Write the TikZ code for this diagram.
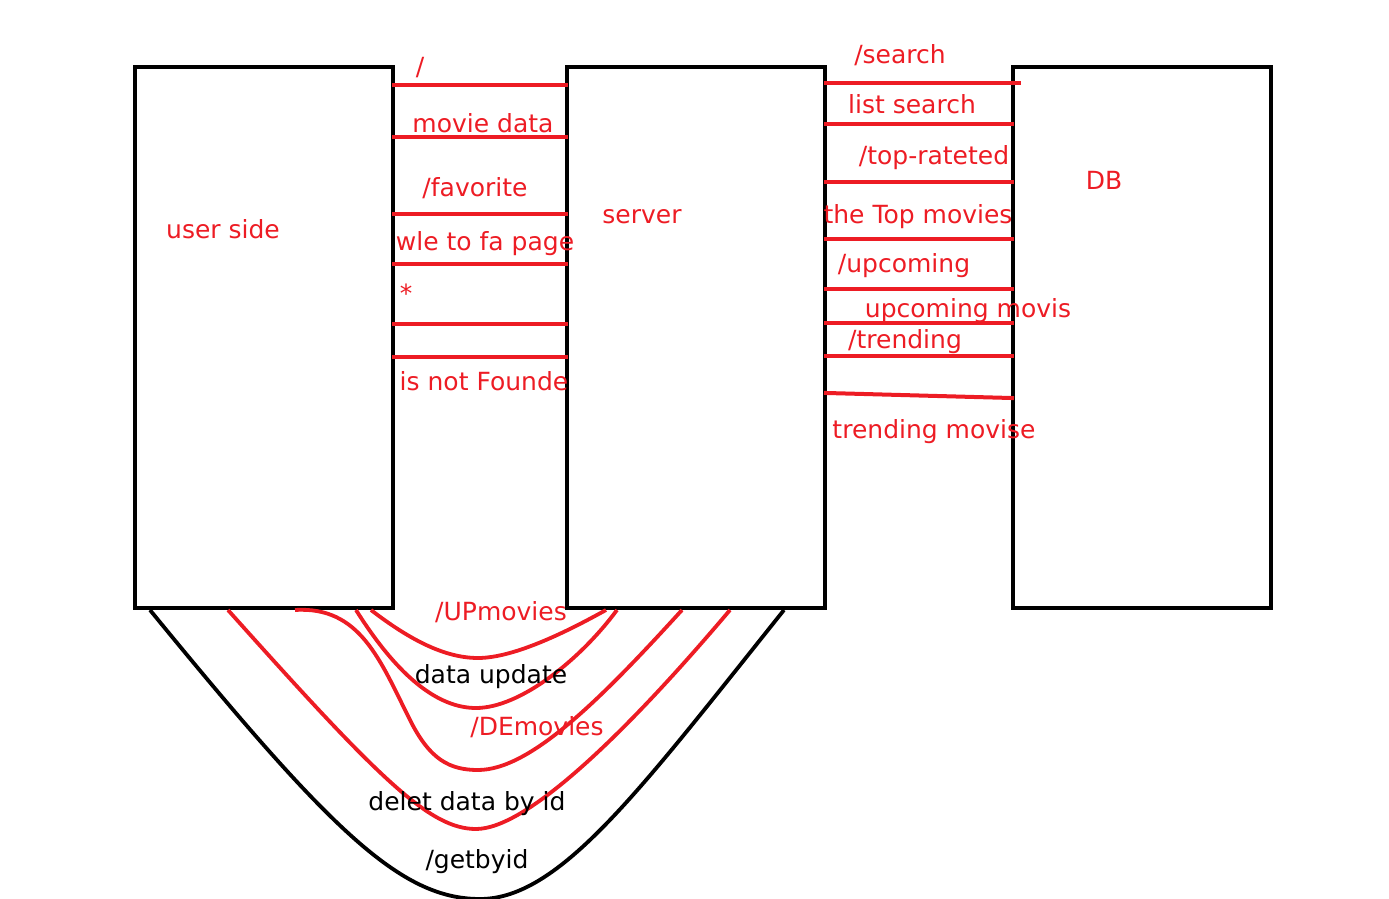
\documentclass[tikz,border=0pt]{standalone}
\usepackage{fontspec}
\setmainfont{DejaVu Sans}
\usetikzlibrary{positioning}
\definecolor{paintred}{RGB}{237,28,36}

\begin{document}
\begin{tikzpicture}[x=0.5pt,y=-0.5pt,
  box/.style={draw,line width=2pt,minimum width=129pt,minimum height=270.5pt,inner sep=0pt},
  route/.style={paintred,line width=2pt,shorten <=-1.5pt,shorten >=-1.5pt},
  loopline/.style={line width=1.9pt},
  lbl/.style={anchor=base,inner sep=0pt,font=\fontsize{12.5}{15}\selectfont},
  rlbl/.style={lbl,text=paintred}]
  \useasboundingbox (0,0) rectangle (1389,899);

  % blocks
  \node[box] (user) at (264,337.5) {};
  \node[box,right=85pt of user] (server) {};
  \node[box,right=92pt of server] (db) {};
  \node[rlbl] (userlbl) at (223,239) {user side};
  \node[rlbl] (serverlbl) at (642,224) {server};
  \node[rlbl] (dblbl) at (1104,190) {DB};

  % routes user side -- server
  \foreach \y in {85,137,214,264,324,357}
    \draw[route] (user.east |- 0,\y) -- (server.west |- 0,\y);
  \node[rlbl] (root) at (420,76) {/};
  \node[rlbl] (moviedata) at (483,133) {movie data};
  \node[rlbl] (fav) at (475,197) {/favorite};
  \node[rlbl] (favpage) at (485,250) {wle to fa page};
  \node[rlbl] (star) at (406,303) {*};
  \node[rlbl] (notfound) at (484,390) {is not Founde};

  % routes server -- DB
  \foreach \y in {124,182,239,289,323,356}
    \draw[route] (server.east |- 0,\y) -- (db.west |- 0,\y);
  \draw[route,shorten >=-5pt] (server.east |- 0,83) -- (db.west |- 0,83);
  \draw[route] (server.east |- 0,393) -- (db.west |- 0,398);
  \node[rlbl] (search) at (900,64) {/search};
  \node[rlbl] (listsearch) at (912,114) {list search};
  \node[rlbl] (toprated) at (934,165) {/top-rateted};
  \node[rlbl] (topmovies) at (918,224) {the Top movies};
  \node[rlbl] (upcoming) at (904,272) {/upcoming};
  \node[rlbl] (upmovis) at (968,317) {upcoming movis};
  \node[rlbl] (trending) at (905,349) {/trending};
  \node[rlbl] (trendmovise) at (934,438) {trending movise};

  % curved routes below
  \draw[loopline] (user.south -| 150,0) .. controls (330,830) and (400,899) .. (480,899)
    .. controls (560,899) and (640,790) .. (server.south -| 784,0);
  \draw[loopline,paintred] (user.south -| 228,0) .. controls (380,780) and (430,829) .. (476,829)
    .. controls (525,829) and (620,740) .. (server.south -| 730,0);
  \draw[loopline,paintred] (user.south -| 295,0) .. controls (360,606) and (380,660) .. (410,720)
    .. controls (430,760) and (450,770) .. (478,770)
    .. controls (530,770) and (600,700) .. (server.south -| 682,0);
  \draw[loopline,paintred] (user.south -| 356,0) .. controls (400,680) and (440,708) .. (476,708)
    .. controls (520,708) and (580,660) .. (server.south -| 617,0);
  \draw[loopline,paintred] (user.south -| 371,0) .. controls (410,640) and (445,658) .. (478,658)
    .. controls (515,658) and (570,630) .. (server.south -| 606,0);
  \node[rlbl] (upmovies) at (501,620) {/UPmovies};
  \node[lbl] (dataupdate) at (491,683) {data update};
  \node[rlbl] (demovies) at (537,735) {/DEmovies};
  \node[lbl] (deletbyid) at (467,810) {delet data by id};
  \node[lbl] (getbyid) at (477,868) {/getbyid};
\end{tikzpicture}
\end{document}
